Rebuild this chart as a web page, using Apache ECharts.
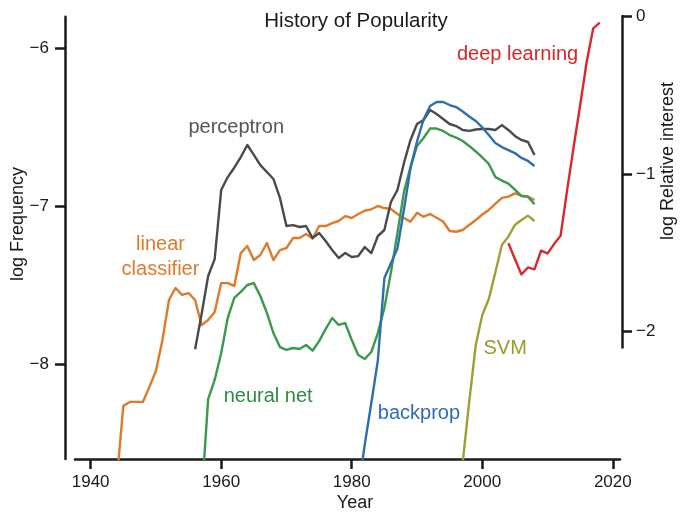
<!DOCTYPE html>
<html>
<head>
<meta charset="utf-8">
<script src="https://cdn.jsdelivr.net/npm/echarts@6/dist/echarts.min.js"></script>
<style>
html, body { margin: 0; padding: 0; background: #fff; }
#myChart { width: 680px; height: 512px; }
</style>
</head>
<body>
<div id="myChart"></div>
<script>
// values, one per year from the start year
var perceptronStart = 1956;
var perceptron = [-7.905, -7.682, -7.441, -7.334, -6.897, -6.815, -6.756, -6.688, -6.612, -6.675,
	-6.739, -6.783, -6.827, -6.947, -7.125, -7.119, -7.131, -7.125, -7.201, -7.169,
	-7.220, -7.277, -7.327, -7.296, -7.321, -7.315, -7.258, -7.296, -7.188, -7.150,
	-6.973, -6.897, -6.726, -6.580, -6.479, -6.454, -6.391, -6.416, -6.447, -6.479,
	-6.492, -6.517, -6.523, -6.514, -6.511, -6.511, -6.517, -6.486, -6.517, -6.555,
	-6.580, -6.593, -6.675];

var linearStart = 1944;
var linearClassifier = [-8.74, -8.263, -8.238, -8.238, -8.238, -8.143, -8.042, -7.846, -7.593, -7.517,
	-7.561, -7.549, -7.593, -7.752, -7.720, -7.669, -7.486, -7.486, -7.504, -7.296,
	-7.251, -7.340, -7.308, -7.232, -7.340, -7.277, -7.264, -7.201, -7.201, -7.175,
	-7.204, -7.125, -7.125, -7.106, -7.093, -7.062, -7.074, -7.049, -7.028, -7.019,
	-6.998, -7.011, -7.017, -7.049, -7.074, -7.097, -7.041, -7.066, -7.049, -7.072,
	-7.096, -7.156, -7.161, -7.150, -7.118, -7.087, -7.052, -7.023, -6.985, -6.947,
	-6.939, -6.918, -6.933, -6.939, -6.960];

var neuralStart = 1957;
var neuralNet = [-8.845, -8.220, -8.099, -7.929, -7.707, -7.580, -7.542, -7.498, -7.486, -7.568,
	-7.675, -7.802, -7.891, -7.909, -7.897, -7.903, -7.878, -7.914, -7.853, -7.777,
	-7.707, -7.751, -7.739, -7.846, -7.941, -7.966, -7.922, -7.802, -7.644, -7.418,
	-7.169, -6.909, -6.751, -6.618, -6.568, -6.508, -6.508, -6.523, -6.549, -6.565,
	-6.587, -6.618, -6.653, -6.691, -6.732, -6.815, -6.837, -6.856, -6.894, -6.935,
	-6.939, -6.987];

var backpropStart = 1981;
var backprop = [-8.80, -8.505, -8.245, -7.975, -7.454, -7.360, -7.267, -7.020, -6.760, -6.590,
	-6.450, -6.365, -6.340, -6.340, -6.359, -6.372, -6.400, -6.432, -6.460, -6.501,
	-6.549, -6.599, -6.625, -6.644, -6.663, -6.694, -6.713, -6.745];

var svmStart = 1997;
var svm = [-8.62, -8.237, -7.878, -7.688, -7.587, -7.419, -7.245, -7.192, -7.118, -7.087,
	-7.059, -7.093];

// deep learning is read on the right axis (log relative interest)
var deepStart = 2004;
var deepLearning = [-1.440, -1.539, -1.637, -1.593, -1.605, -1.487, -1.504, -1.445, -1.392, -1.103,
	-0.830, -0.564, -0.290, -0.078, -0.042];

var xTicks = [1940, 1960, 1980, 2000, 2020];
var leftTicks = [-8, -7, -6];
var rightTicks = [-2, -1, 0];

// annotation texts and where they sit, in data units (year, log frequency)
var labelTexts = ['perceptron', 'linear\nclassifier', 'neural net', 'backprop', 'SVM', 'deep learning'];
var labelYears = [1962.3, 1950.7, 1967.2, 1990.3, 2003.5, 2005.4];
var labelValues = [-6.504, -7.321, -8.204, -8.311, -7.897, -6.042];
var labelColors = ['#555555', '#e07a2b', '#2e8b40', '#2f6db5', '#9a9a2a', '#d62728'];

var FONT = '"Liberation Sans", Arial, sans-serif';
var INK = '#1a1a1a';

function pairs(start, vals) {
	return vals.map(function (v, i) { return [start + i, v]; });
}
function minusFmt(v) {
	return (v < 0 ? '\u2212' : '') + Math.abs(v);
}

var myChart = echarts.init(document.getElementById('myChart'));

function lineSeries(name, data, color, yIdx) {
	return {
		name: name,
		type: 'line',
		xAxisIndex: yIdx,
		yAxisIndex: yIdx,
		data: data,
		symbol: 'none',
		smooth: false,
		clip: true,
		lineStyle: { color: color, width: 2.4, join: 'round' },
		emphasis: { disabled: true }
	};
}

var axisLineStyle = { color: INK, width: 2.5 };
var labelStyle = { fontSize: 17, color: INK, fontFamily: FONT };

var option = {
	animation: false,
	grid: [
		{ left: 75, right: 60, top: 16.7, bottom: 52.9 },
		{ left: 75, right: 60, top: 16, bottom: 164.5 }
	],
	xAxis: [
		{
			type: 'value', gridIndex: 0, min: 1937.6, max: 2021.1,
			axisLine: { show: true, lineStyle: axisLineStyle },
			axisTick: { show: true, length: 10, lineStyle: axisLineStyle, customValues: xTicks },
			axisLabel: Object.assign({ customValues: xTicks, margin: 15, formatter: function (v) { return String(v); } }, labelStyle),
			splitLine: { show: false }
		},
		{ type: 'value', gridIndex: 1, min: 1937.6, max: 2021.1, show: false }
	],
	yAxis: [
		{
			type: 'value', gridIndex: 0, position: 'left', offset: 10, min: -8.6, max: -5.8,
			axisLine: { show: true, lineStyle: axisLineStyle },
			axisTick: { show: true, length: 10, lineStyle: axisLineStyle, customValues: leftTicks },
			axisLabel: Object.assign({ customValues: leftTicks, margin: 16, formatter: minusFmt }, labelStyle),
			splitLine: { show: false }
		},
		{
			type: 'value', gridIndex: 1, position: 'right', offset: 2, min: -2.1, max: 0,
			axisLine: { show: true, lineStyle: axisLineStyle },
			axisTick: { show: true, length: 10, lineStyle: axisLineStyle, customValues: rightTicks },
			axisLabel: Object.assign({ customValues: rightTicks, margin: 14, formatter: minusFmt }, labelStyle),
			splitLine: { show: false }
		}
	],
	series: [
		lineSeries('linear classifier', pairs(linearStart, linearClassifier), '#e07a2b', 0),
		lineSeries('perceptron', pairs(perceptronStart, perceptron), '#4a4a4a', 0),
		lineSeries('neural net', pairs(neuralStart, neuralNet), '#3a9a4b', 0),
		lineSeries('backprop', pairs(backpropStart, backprop), '#2c6fad', 0),
		lineSeries('SVM', pairs(svmStart, svm), '#a0a032', 0),
		lineSeries('deep learning', pairs(deepStart, deepLearning), '#d62a2e', 1)
	]
};

myChart.setOption(option);

// text placed after layout so it can use the chart's own scales
var graphics = labelTexts.map(function (t, i) {
	var p = myChart.convertToPixel({ gridIndex: 0 }, [labelYears[i], labelValues[i]]);
	return {
		type: 'text', x: p[0], y: p[1],
		style: { text: t, fill: labelColors[i], fontSize: 20, fontFamily: FONT, lineHeight: 25, align: 'center', verticalAlign: 'middle' }
	};
});
// title and axis titles
graphics.push({ type: 'text', x: 356, y: 21, style: { text: 'History of Popularity', fill: INK, fontSize: 20.5, fontFamily: FONT, align: 'center', verticalAlign: 'middle' } });
graphics.push({ type: 'text', x: 355, y: 503, style: { text: 'Year', fill: INK, fontSize: 18, fontFamily: FONT, align: 'center', verticalAlign: 'middle' } });
graphics.push({ type: 'text', x: 18, y: 224, rotation: Math.PI / 2, style: { text: 'log Frequency', fill: INK, fontSize: 18, fontFamily: FONT, align: 'center', verticalAlign: 'middle' } });
graphics.push({ type: 'text', x: 668, y: 161, rotation: Math.PI / 2, style: { text: 'log Relative interest', fill: INK, fontSize: 18, fontFamily: FONT, align: 'center', verticalAlign: 'middle' } });

myChart.setOption({ graphic: graphics });
</script>
</body>
</html>
